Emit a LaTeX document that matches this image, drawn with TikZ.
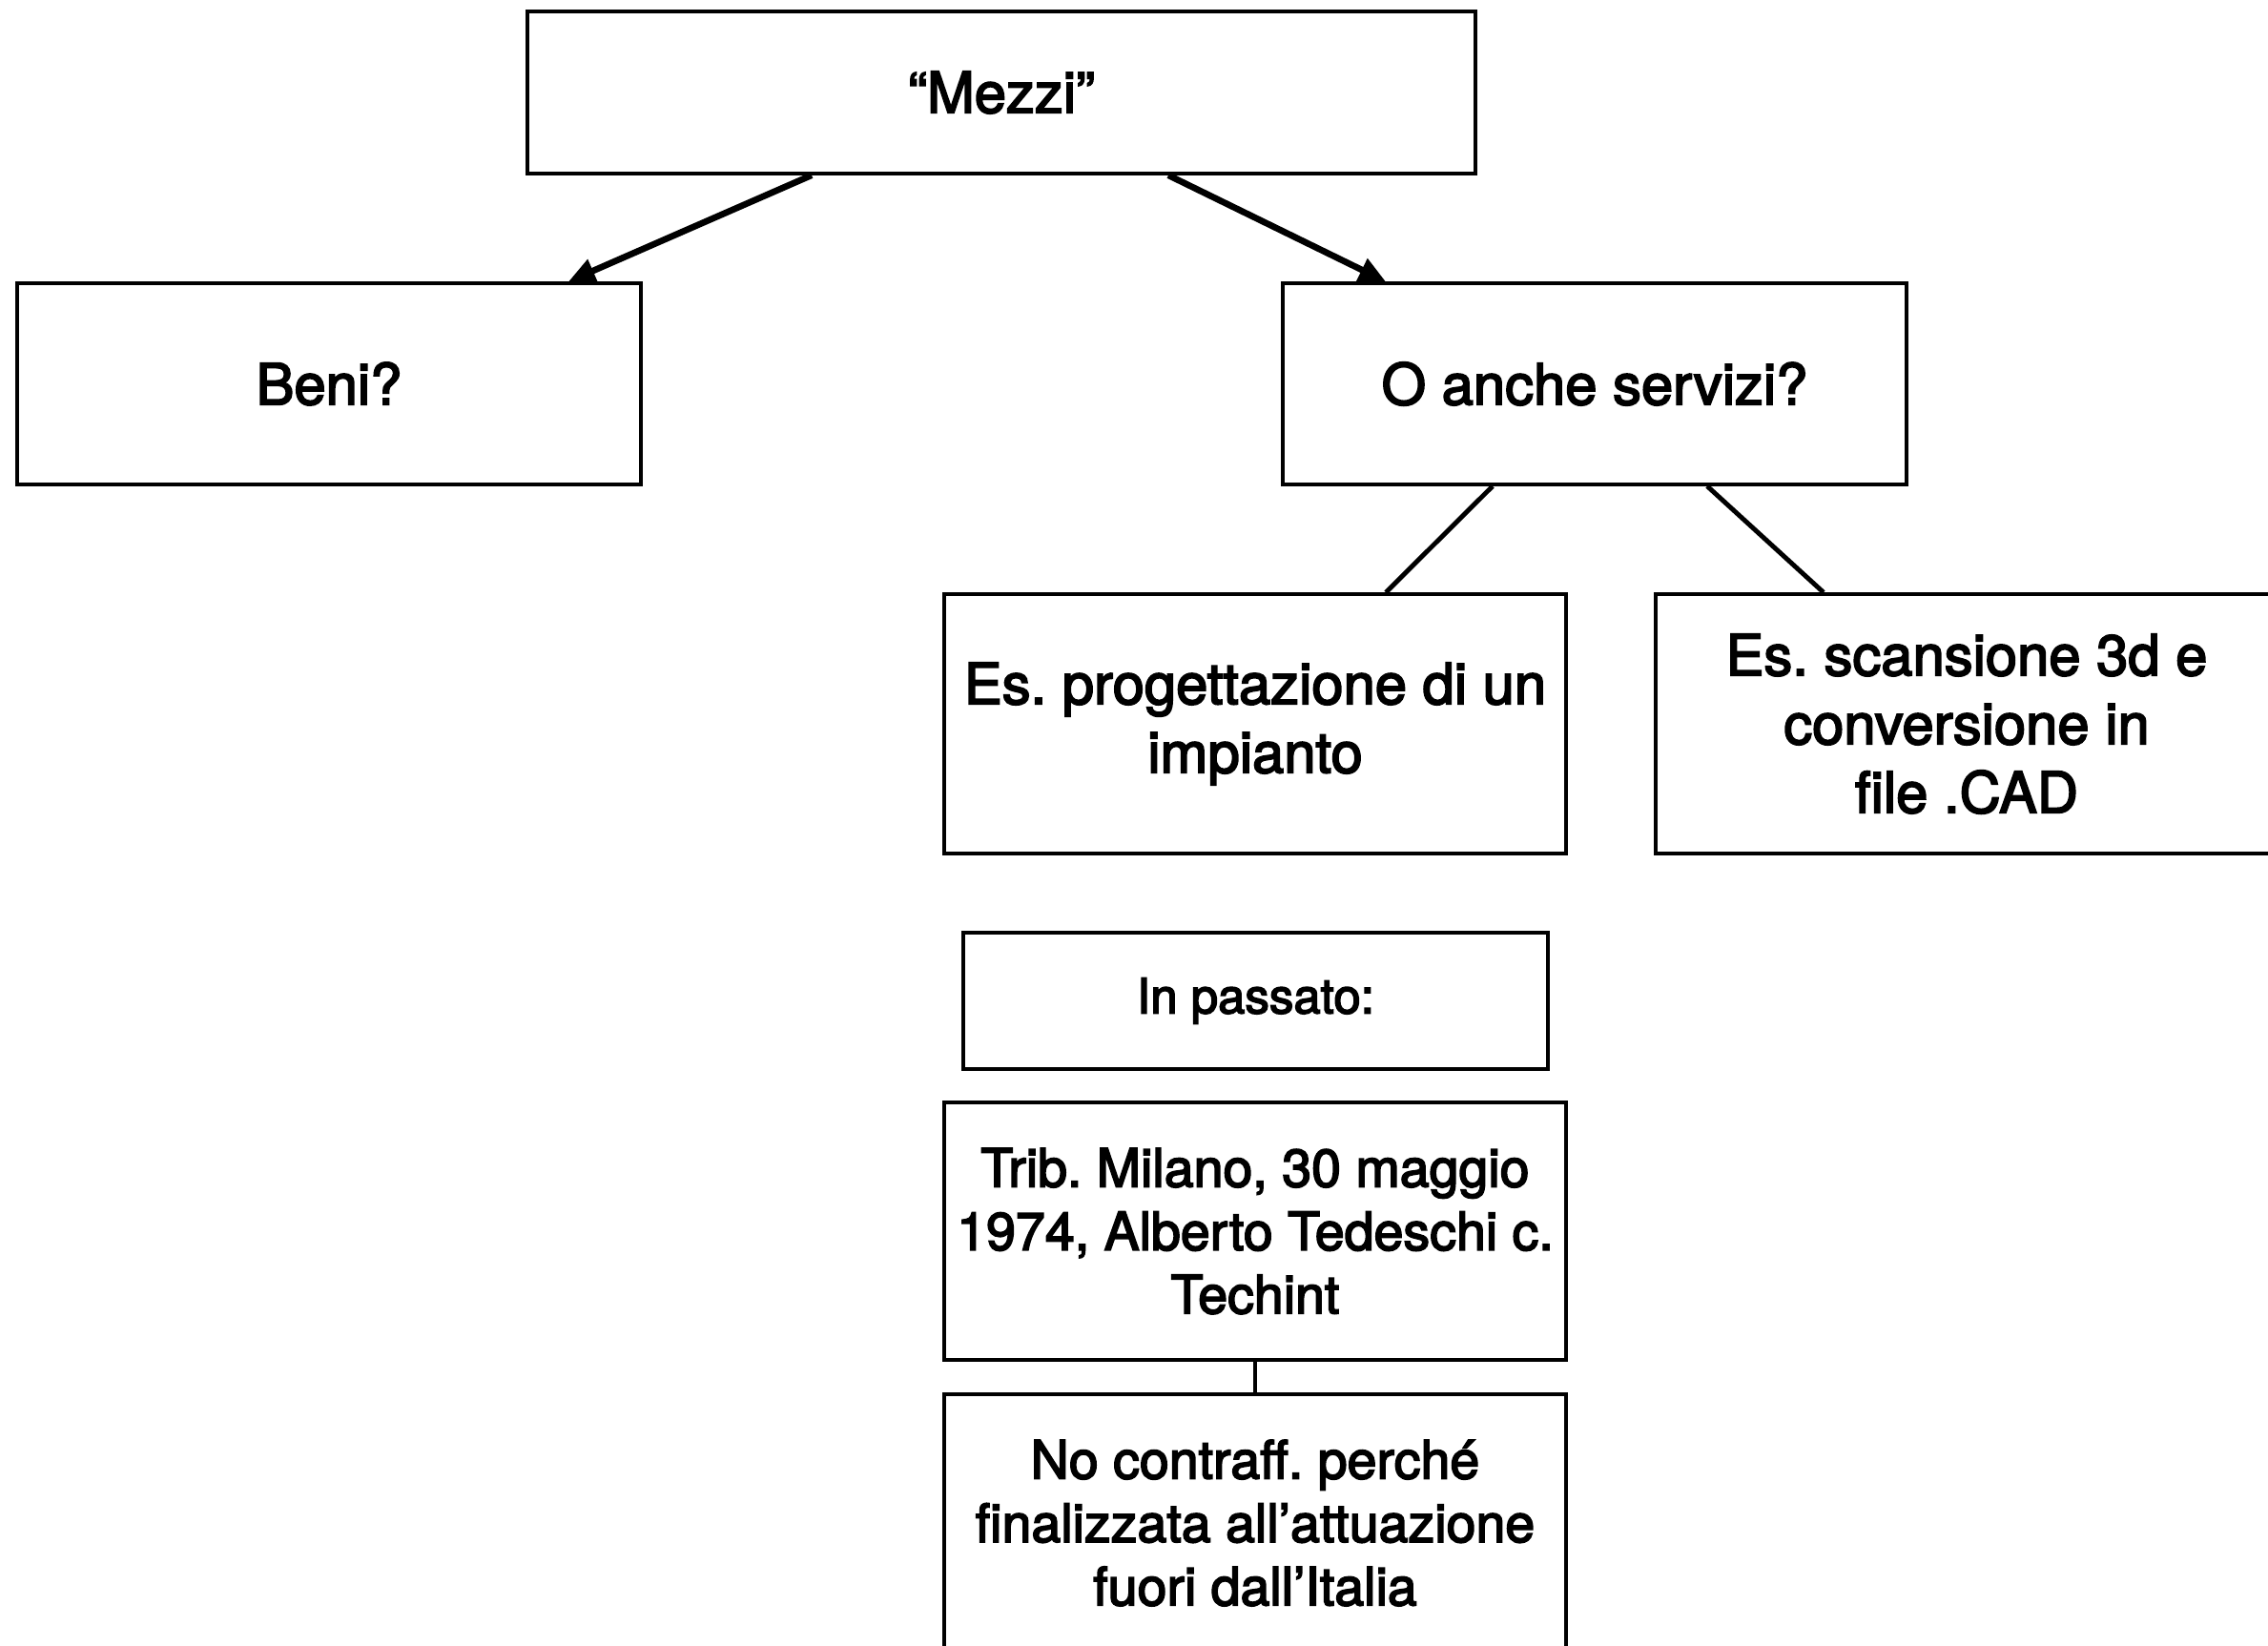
\documentclass[tikz,border=0pt]{standalone}
\usepackage{fontspec}
\setmainfont{TeX Gyre Heros}[FakeBold=3]
\usetikzlibrary{calc,arrows.meta}
\begin{document}
\frenchspacing
\begin{tikzpicture}[
  box/.style={draw=black, line width=1pt, fill=white, inner sep=0pt, align=center,
    font=\fontsize{17}{20.5}\selectfont},
  tight/.style={font=\fontsize{15.8}{18.9}\selectfont},
  conn/.style={line width=1.4pt},
  arr/.style={line width=1.9pt, -{Triangle[length=2.8mm,width=2.5mm]}}
]
\useasboundingbox[fill=white] (0,0) rectangle (23.78,-17.25);
\node[box, minimum width=9.94cm, minimum height=1.70cm] (mezzi) at (10.50,-0.97) {\raisebox{-0.6mm}{“Mezzi”}};
\node[box, minimum width=6.54cm, minimum height=2.11cm] (beni) at (3.45,-4.025) {Beni?};
\node[box, minimum width=6.54cm, minimum height=2.11cm] (oanche) at (16.72,-4.025) {O anche servizi?};
\node[box, minimum width=6.52cm, minimum height=2.72cm] (prog) at (13.16,-7.59) {\raisebox{-1mm}{Es. progettazione di un}\\\raisebox{-1mm}{impianto}};
\node[box, minimum width=6.52cm, minimum height=2.72cm] (scan) at (20.62,-7.59) {\raisebox{-0.5mm}{Es. scansione 3d e}\\\raisebox{-0.5mm}{conversione in}\\\raisebox{-0.5mm}{file .CAD}};
\node[box, minimum width=6.13cm, minimum height=1.43cm, font=\fontsize{14.5}{18}\selectfont] (passato) at (13.165,-10.495) {In passato:};
\node[box, tight, minimum width=6.52cm, minimum height=2.70cm] (trib) at (13.16,-12.91) {Trib. Milano, 30 maggio\\1974, Alberto Tedeschi c.\\Techint};
\node[box, tight, minimum width=6.52cm, minimum height=2.70cm] (nocontr) at (13.16,-15.97) {No contraff. perché\\finalizzata all’attuazione\\fuori dall’Italia};
\draw[arr] ($(mezzi.south)+(-1.99,0)$) -- ($(beni.north)+(2.51,0)$);
\draw[arr] ($(mezzi.south)+(1.75,0)$) -- ($(oanche.north)+(-2.19,0)$);
\draw[conn] ($(oanche.south)+(-1.07,0)$) -- ($(prog.north)+(1.37,0)$);
\draw[conn] ($(oanche.south)+(1.18,0)$) -- ($(scan.north)+(-1.50,0)$);
\draw[conn] (trib.south) -- (nocontr.north);
\end{tikzpicture}
\end{document}
